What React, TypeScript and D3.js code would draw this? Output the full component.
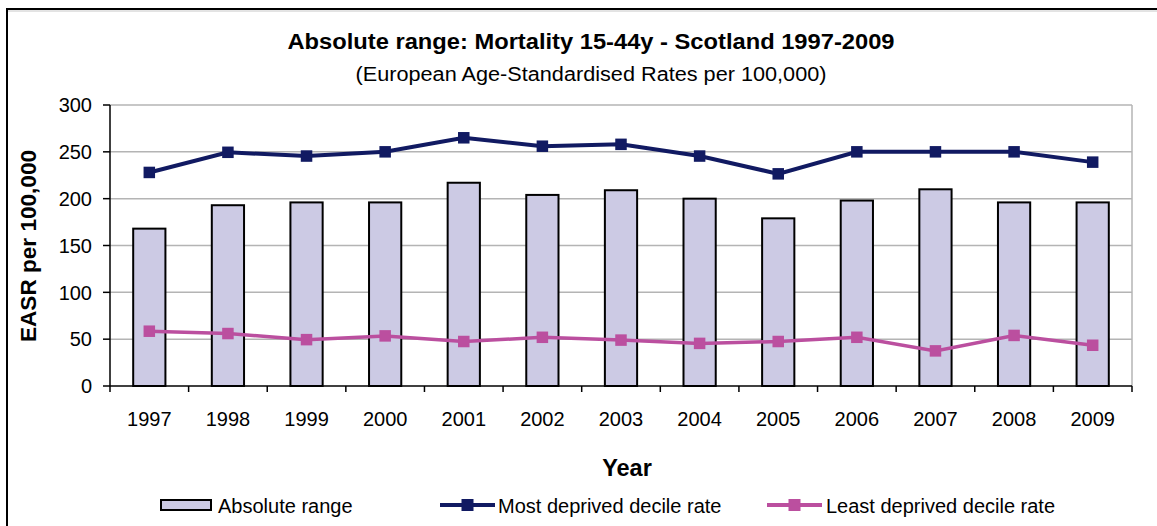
import React from "react";
import * as d3 from "d3";

const years = ["1997","1998","1999","2000","2001","2002","2003","2004","2005","2006","2007","2008","2009"];
const absoluteRange = [168, 193, 196, 196, 217, 204, 209, 200, 179, 198, 210, 196, 196];
const mostDeprived = [228, 249.5, 245.5, 250, 265, 256, 258, 245.5, 226.5, 250, 250, 250, 239];
const leastDeprived = [58.5, 56, 49.5, 53.5, 47.5, 52, 49, 45.5, 47.5, 52, 37.5, 54, 43.5];
const yTicks = [0, 50, 100, 150, 200, 250, 300];

const W = 1157, H = 526;
const plot = { left: 110, right: 1132, top: 105, bottom: 386 };
const FONT = "'Liberation Sans', Arial, sans-serif";
const NAVY = "#111a62";
const PINK = "#bb4f9f";
const BAR = "#cccae4";

export default function App() {
  const x = d3.scaleBand<string>().domain(years).range([plot.left, plot.right]);
  const y = d3.scaleLinear().domain([0, 300]).range([plot.bottom, plot.top]);
  const bw = x.bandwidth() * 0.41;
  const cx = (yr: string) => (x(yr) as number) + x.bandwidth() / 2;
  const line = d3.line<number>().x((_, i) => cx(years[i])).y((v) => y(v));
  const ms = 11.5;
  const boundaries = d3.range(years.length + 1).map((i) => plot.left + i * x.step());

  return (
    <div style={{ position: "absolute", left: 0, top: 0 }}>
      <svg width={W} height={H} style={{ display: "block", fontFamily: FONT }}>
        <rect width={W} height={H} fill="#fff" />
        <path d={`M7,${H} V9 H${W}`} fill="none" stroke="#000" strokeWidth={2} />
        <line x1={8} x2={W} y1={11} y2={11} stroke="#c8c8c8" strokeWidth={1} />

        <text x={591} y={49} textAnchor="middle" fontWeight="bold" fontSize={22} fill="#000"
          textLength={607} lengthAdjust="spacingAndGlyphs">
          Absolute range: Mortality 15-44y - Scotland 1997-2009
        </text>
        <text x={591} y={81} textAnchor="middle" fontSize={20} fill="#000"
          textLength={471} lengthAdjust="spacingAndGlyphs">
          (European Age-Standardised Rates per 100,000)
        </text>

        {/* gridlines */}
        {yTicks.filter((t) => t > 0).map((t) => (
          <line key={t} x1={plot.left} x2={plot.right} y1={y(t)} y2={y(t)} stroke="#b4b4b4" strokeWidth={1.5} />
        ))}
        <line x1={plot.right} x2={plot.right} y1={plot.top} y2={plot.bottom} stroke="#b4b4b4" strokeWidth={1.5} />

        {/* bars */}
        {years.map((yr, i) => (
          <rect key={yr} x={cx(yr) - bw / 2} y={y(absoluteRange[i])} width={bw}
            height={plot.bottom - y(absoluteRange[i])} fill={BAR} stroke="#000" strokeWidth={2} />
        ))}

        {/* axes */}
        <line x1={plot.left} x2={plot.left} y1={plot.top} y2={plot.bottom} stroke="#000" strokeWidth={1.5} />
        <line x1={plot.left} x2={plot.right} y1={plot.bottom} y2={plot.bottom} stroke="#000" strokeWidth={1.5} />
        {yTicks.map((t) => (
          <g key={t}>
            <line x1={plot.left - 7} x2={plot.left} y1={y(t)} y2={y(t)} stroke="#000" strokeWidth={1.5} />
            <text x={92} y={y(t)} dy="0.36em" textAnchor="end" fontSize={20} fill="#000">{t}</text>
          </g>
        ))}
        {boundaries.map((b, i) => (
          <line key={i} x1={b} x2={b} y1={plot.bottom} y2={plot.bottom + 6} stroke="#000" strokeWidth={1.5} />
        ))}
        {years.map((yr) => (
          <text key={yr} x={cx(yr)} y={426} textAnchor="middle" fontSize={20} fill="#000">{yr}</text>
        ))}

        {/* lines */}
        <path d={line(mostDeprived) ?? ""} fill="none" stroke={NAVY} strokeWidth={4} />
        {mostDeprived.map((v, i) => (
          <rect key={i} x={cx(years[i]) - ms / 2} y={y(v) - ms / 2} width={ms} height={ms} fill={NAVY} />
        ))}
        <path d={line(leastDeprived) ?? ""} fill="none" stroke={PINK} strokeWidth={3.5} />
        {leastDeprived.map((v, i) => (
          <rect key={i} x={cx(years[i]) - ms / 2} y={y(v) - ms / 2} width={ms} height={ms} fill={PINK} />
        ))}

        {/* axis titles */}
        <text transform="translate(36,246) rotate(-90)" textAnchor="middle" fontWeight="bold" fontSize={22} fill="#000"
          textLength={192} lengthAdjust="spacingAndGlyphs">
          EASR per 100,000
        </text>
        <text x={627} y={476} textAnchor="middle" fontWeight="bold" fontSize={23.5} fill="#000">Year</text>

        {/* legend */}
        <rect x={161} y={500} width={50} height={10} fill={BAR} stroke="#000" strokeWidth={2} />
        <text x={218} y={513} fontSize={20} fill="#000">Absolute range</text>
        <line x1={440} x2={495} y1={505} y2={505} stroke={NAVY} strokeWidth={4} />
        <rect x={467.5 - 6} y={499} width={12} height={12} fill={NAVY} />
        <text x={498} y={513} fontSize={20} fill="#000">Most deprived decile rate</text>
        <line x1={767} x2={822} y1={505} y2={505} stroke={PINK} strokeWidth={4} />
        <rect x={794.5 - 6} y={499} width={12} height={12} fill={PINK} />
        <text x={826} y={513} fontSize={20} fill="#000">Least deprived decile rate</text>
      </svg>
    </div>
  );
}
